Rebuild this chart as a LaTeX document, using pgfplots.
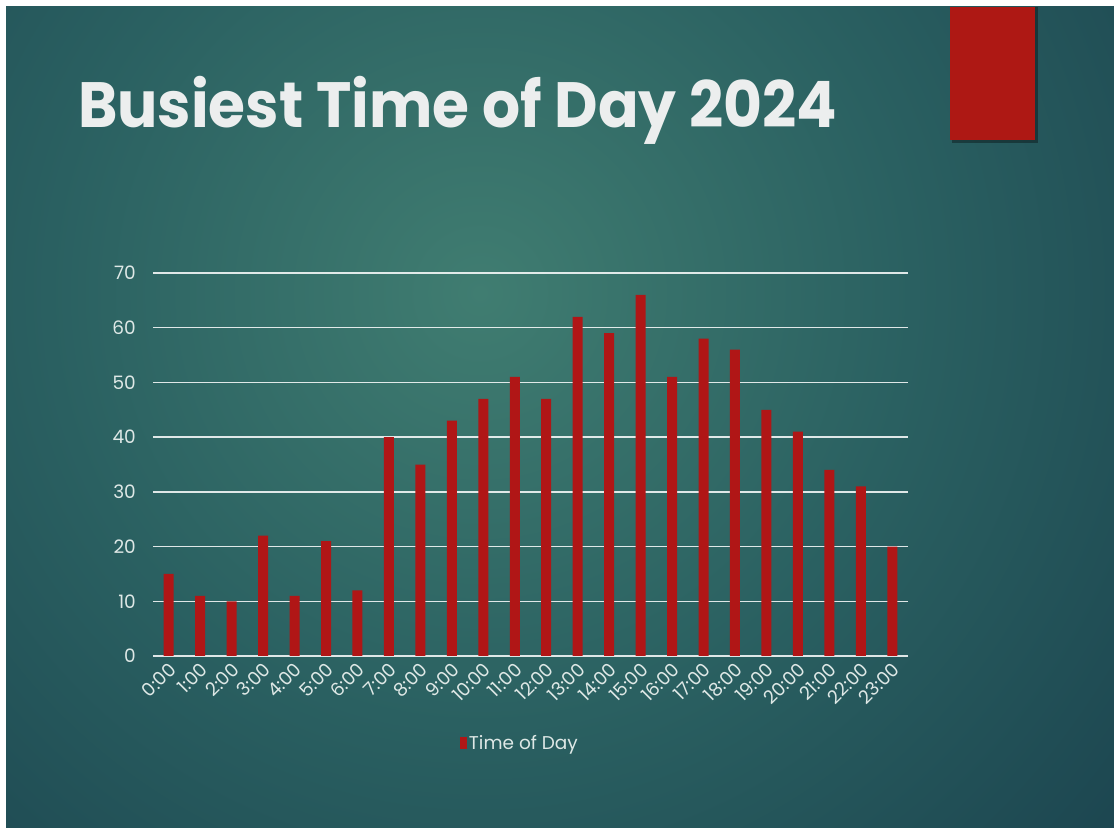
\documentclass[border=0pt]{standalone}
\usepackage{pgfplots}
\pgfplotsset{compat=1.18}
\usepackage{fontspec}
\setmainfont{Poppins}
\definecolor{barred}{RGB}{176,22,22}
\definecolor{boxred}{RGB}{174,24,20}
\definecolor{bgA}{RGB}{64,125,113}
\definecolor{bgB}{RGB}{42,96,97}
\definecolor{bgC}{RGB}{20,54,70}
\definecolor{titlewhite}{RGB}{236,238,238}
\definecolor{labelwhite}{RGB}{222,232,230}
\pgfdeclareradialshading{slidebg}{\pgfpoint{0bp}{0bp}}{color(0bp)=(bgA); color(12bp)=(bgB); color(30bp)=(bgC); color(50bp)=(bgC)}
\begin{document}
\begin{tikzpicture}[x=1pt,y=1pt]
\fill[white] (0,0) rectangle (1114,833);
\begin{scope}
\clip (6,6) rectangle (1114,826);
\fill[bgC] (6,6) rectangle (1114,826);
\shade[shading=slidebg] (480,540) circle (900);
\end{scope}
\fill[black,opacity=0.35] (952,690) rectangle (1038,826);
\fill[boxred] (950,693) rectangle (1035,826);
\node[anchor=base west, text=titlewhite, font=\bfseries\fontsize{64}{70}\selectfont, inner sep=0pt, xscale=0.935] at (78,705) {Busiest Time of Day 2024};
\begin{axis}[
  at={(153pt,177pt)}, anchor=south west,
  scale only axis, width=755pt, height=383pt,
  ymin=0, ymax=70, xmin=-0.5, xmax=23.5,
  ytick={0,10,...,70},
  xtick={0,...,23},
  xticklabels={0:00,1:00,2:00,3:00,4:00,5:00,6:00,7:00,8:00,9:00,10:00,11:00,12:00,13:00,14:00,15:00,16:00,17:00,18:00,19:00,20:00,21:00,22:00,23:00},
  axis line style={draw=none},
  major tick length=0pt,
  ymajorgrids,
  grid style={white, line width=1.3pt, opacity=0.85},
  /pgf/number format/assume math mode=true,
  tick label style={text=labelwhite, font=\fontsize{18.5}{20}\selectfont},
  yticklabel style={inner sep=0pt, xshift=-17pt},
  xticklabel style={inner sep=0pt, xshift=4pt, yshift=-10pt, rotate=45, anchor=east},
  ybar, bar width=10pt,
  legend style={at={(0.486,-0.227)}, anchor=center, draw=none, fill=none, text=labelwhite, font=\fontsize{18.5}{20}\selectfont, inner sep=0pt},
  legend image code/.code={\fill[barred] (1pt,-6pt) rectangle (8pt,6pt);},
]
\addplot[fill=barred, draw=none, bar shift=0pt] coordinates {
(0,15) (1,11) (2,10) (3,22) (4,11) (5,21) (6,12) (7,40) (8,35) (9,43) (10,47) (11,51)
(12,47) (13,62) (14,59) (15,66) (16,51) (17,58) (18,56) (19,45) (20,41) (21,34) (22,31) (23,20)};
\addlegendentry{Time of Day}
\end{axis}
\end{tikzpicture}
\end{document}
